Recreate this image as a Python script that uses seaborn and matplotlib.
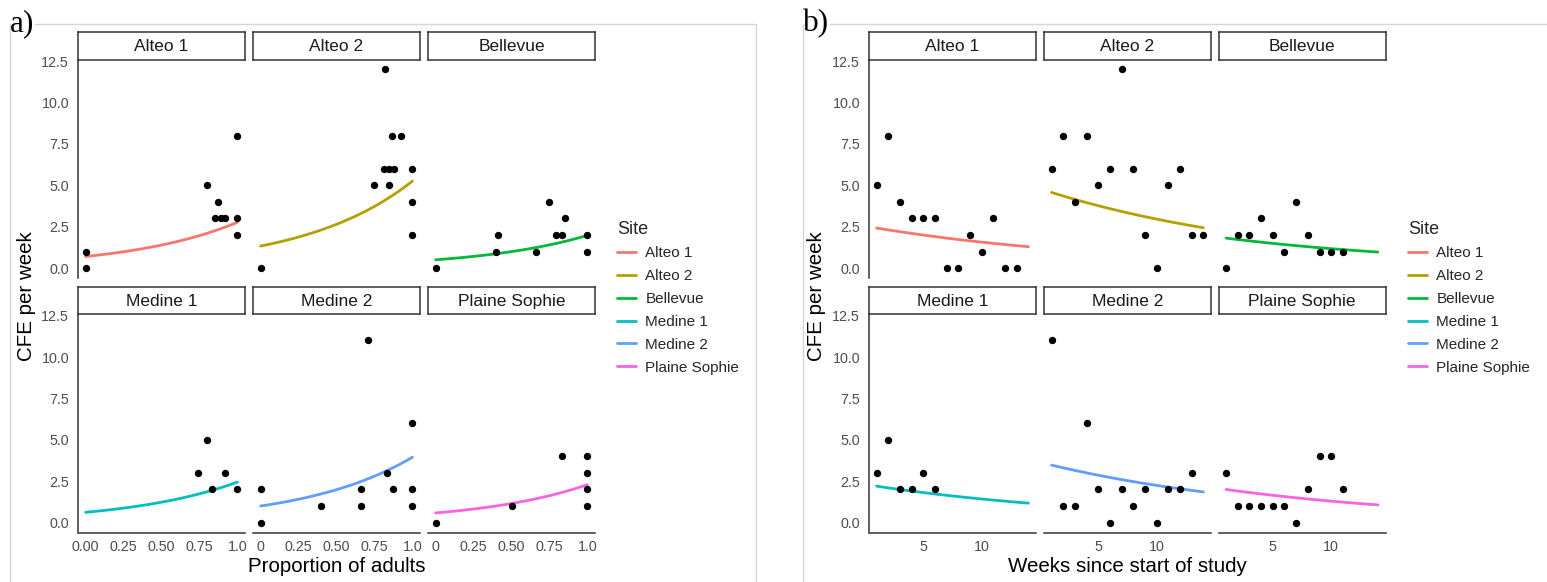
import numpy as np
import pandas as pd
import matplotlib
matplotlib.use("Agg")
import matplotlib.pyplot as plt
from matplotlib.lines import Line2D
import seaborn as sns

# ---------------------------------------------------------------- data
sites = ["Alteo 1", "Alteo 2", "Bellevue", "Medine 1", "Medine 2", "Plaine Sophie"]
site_colors = ["#F8766D", "#B79F00", "#00BA38", "#00BFC4", "#619CFF", "#F564E3"]

# a) weekly CFE against the proportion of adults
prop_alteo1 = [0, 0, 0.80, 0.87, 0.855, 0.89, 0.92, 1, 1, 1]
cfe_prop_alteo1 = [1, 0, 5, 4, 3, 3, 3, 8, 3, 2]
prop_alteo2 = [0, 0.747, 0.821, 0.812, 0.845, 0.876, 0.845, 0.867, 0.928, 1, 1, 1]
cfe_prop_alteo2 = [0, 5, 12, 6, 6, 6, 5, 8, 8, 6, 4, 2]
prop_bellevue = [0, 0.41, 0.40, 0.66, 0.745, 0.855, 0.795, 0.83, 1, 1]
cfe_prop_bellevue = [0, 2, 1, 1, 4, 3, 2, 2, 2, 1]
prop_medine1 = [0.74, 0.80, 0.83, 0.92, 1]
cfe_prop_medine1 = [3, 5, 2, 3, 2]
prop_medine2 = [0, 0, 0.395, 0.664, 0.664, 0.707, 0.83, 0.87, 1, 1, 1]
cfe_prop_medine2 = [2, 0, 1, 2, 1, 11, 3, 2, 6, 2, 1]
prop_plaine = [0, 0.5, 0.83, 1, 1, 1, 1]
cfe_prop_plaine = [0, 1, 4, 4, 3, 2, 1]

# b) weekly CFE against weeks since the start of the study
weeks_alteo1 = [1, 2, 3, 4, 5, 6, 7, 8, 9, 10, 11, 12, 13]
cfe_week_alteo1 = [5, 8, 4, 3, 3, 3, 0, 0, 2, 1, 3, 0, 0]
weeks_alteo2 = [1, 2, 3, 4, 5, 6, 7, 8, 9, 10, 11, 12, 13, 14]
cfe_week_alteo2 = [6, 8, 4, 8, 5, 6, 12, 6, 2, 0, 5, 6, 2, 2]
weeks_bellevue = [1, 2, 3, 4, 5, 6, 7, 8, 9, 10, 11]
cfe_week_bellevue = [0, 2, 2, 3, 2, 1, 4, 2, 1, 1, 1]
weeks_medine1 = [1, 2, 3, 4, 5, 6]
cfe_week_medine1 = [3, 5, 2, 2, 3, 2]
weeks_medine2 = [1, 2, 3, 4, 5, 6, 7, 8, 9, 10, 11, 12, 13]
cfe_week_medine2 = [11, 1, 1, 6, 2, 0, 2, 1, 2, 0, 2, 2, 3]
weeks_plaine = [1, 2, 3, 4, 5, 6, 7, 8, 9, 10, 11]
cfe_week_plaine = [3, 1, 1, 1, 1, 1, 0, 2, 4, 4, 2]

# Poisson (log-link) fits: expected CFE at the start of the covariate range
# per site, with a shared multiplicative effect of the covariate
prop_fit_base = [0.70, 1.33, 0.50, 0.62, 1.00, 0.58]   # at proportion 0
prop_rate_ratio = 3.95                                   # from proportion 0 to 1
prop_fit_range = [0.0, 1.0]
week_fit_base = [2.42, 4.57, 1.81, 2.20, 3.47, 2.00]     # at week 1
week_rate_ratio = 0.9528                                 # per additional week
week_fit_range = [1, 14]

y_ticks = [0, 2.5, 5, 7.5, 10, 12.5]
y_tick_labels = ["0.0", "2.5", "5.0", "7.5", "10.0", "12.5"]
prop_ticks = [0, 0.25, 0.5, 0.75, 1.0]
prop_tick_labels_first = ["0.00", "0.25", "0.50", "0.75", "1.0"]
prop_tick_labels_other = ["0", "0.25", "0.50", "0.75", "1.0"]
week_ticks = [5, 10]
week_tick_labels = ["5", "10"]

prop_points = pd.DataFrame({
    "Site": sum([[s] * len(v) for s, v in zip(sites, [prop_alteo1, prop_alteo2, prop_bellevue,
                                                      prop_medine1, prop_medine2, prop_plaine])], []),
    "x": prop_alteo1 + prop_alteo2 + prop_bellevue + prop_medine1 + prop_medine2 + prop_plaine,
    "cfe": cfe_prop_alteo1 + cfe_prop_alteo2 + cfe_prop_bellevue + cfe_prop_medine1
           + cfe_prop_medine2 + cfe_prop_plaine,
})
week_points = pd.DataFrame({
    "Site": sum([[s] * len(v) for s, v in zip(sites, [weeks_alteo1, weeks_alteo2, weeks_bellevue,
                                                      weeks_medine1, weeks_medine2, weeks_plaine])], []),
    "x": weeks_alteo1 + weeks_alteo2 + weeks_bellevue + weeks_medine1 + weeks_medine2 + weeks_plaine,
    "cfe": cfe_week_alteo1 + cfe_week_alteo2 + cfe_week_bellevue + cfe_week_medine1
           + cfe_week_medine2 + cfe_week_plaine,
})


def fitted(base, ratio, xrange):
    rows = []
    xs = np.linspace(xrange[0], xrange[1], 80)
    for s, b in zip(sites, base):
        pred = np.exp(np.log(b) + np.log(ratio) * (xs - xrange[0]))
        rows.append(pd.DataFrame({"Site": s, "x": xs, "cfe": pred}))
    return pd.concat(rows, ignore_index=True)


prop_fit = fitted(prop_fit_base, prop_rate_ratio, prop_fit_range)
week_fit = fitted(week_fit_base, week_rate_ratio, week_fit_range)

# ---------------------------------------------------------------- style
sns.set_theme(style="white")
plt.rcParams["font.family"] = ["Liberation Sans", "DejaVu Sans"]

W, H = 1547, 582
fig = plt.figure(figsize=(W / 100, H / 100), dpi=100)
fig.patch.set_facecolor("white")

AX_W, AX_H = 167, 218.5
STRIP_H = 27.5
ROW_TOPS = [59.5, 314.0]
AXIS_COLOR = "#333333"
TICK_LABEL_COLOR = "#4D4D4D"


def add_box(x, y, w, h):
    return fig.add_axes([x / W, 1 - (y + h) / H, w / W, h / H])


def fig_line(xs, ys, **kw):
    fig.add_artist(Line2D([x / W for x in xs], [1 - y / H for y in ys],
                          transform=fig.transFigure, **kw))


def draw_block(col_lefts, points, fit, xlim, xticks, xlabels_by_col, xlabel,
               ylabel_x, legend_x, tag, tag_x, frame_left, frame_right, frame_top_start):
    # light frame around the block
    frame_kw = dict(color="#D6D6D6", lw=1.0)
    fig_line([frame_top_start, frame_right], [24, 24], **frame_kw)
    fig_line([frame_left, frame_left], [24, H + 2], **frame_kw)
    if frame_right < W:
        fig_line([frame_right, frame_right], [24, H + 2], **frame_kw)
    fig.text(tag_x / W, 1 - 31 / H, tag, family=["Liberation Serif", "DejaVu Serif"],
             fontsize=22.5, ha="left", va="baseline", color="black")

    for i, (site, color) in enumerate(zip(sites, site_colors)):
        row, col = divmod(i, 3)
        x0, y0 = col_lefts[col], ROW_TOPS[row]
        ax = add_box(x0, y0, AX_W, AX_H)
        pts = points[points["Site"] == site]
        sns.lineplot(data=fit[fit["Site"] == site], x="x", y="cfe", color=color,
                     lw=2.0, ax=ax, legend=False, zorder=2)
        sns.scatterplot(data=pts, x="x", y="cfe", color="black", s=28,
                        linewidth=0, ax=ax, legend=False, zorder=3)
        ax.set_xlim(*xlim)
        ax.set_ylim(-0.6, 12.6)
        ax.set_xlabel("")
        ax.set_ylabel("")
        ax.set_facecolor("white")
        for sp in ax.spines.values():
            sp.set_visible(False)
        ax.tick_params(colors=AXIS_COLOR, labelcolor=TICK_LABEL_COLOR, labelsize=10.3,
                       length=3.2, width=0.9, pad=3.2)
        ax.set_yticks(y_ticks)
        ax.set_xticks(xticks)
        if col == 0:
            ax.spines["left"].set_visible(True)
            ax.spines["left"].set_color(AXIS_COLOR)
            ax.spines["left"].set_linewidth(1.1)
            ax.set_yticklabels(y_tick_labels)
        else:
            ax.tick_params(axis="y", left=False, labelleft=False)
        if row == 1:
            ax.spines["bottom"].set_visible(True)
            ax.spines["bottom"].set_color(AXIS_COLOR)
            ax.spines["bottom"].set_linewidth(1.1)
            ax.set_xticklabels(xlabels_by_col[col])
            ax.tick_params(axis="x", pad=2.0)
        else:
            ax.tick_params(axis="x", bottom=False, labelbottom=False)

        # facet strip
        st = add_box(x0, y0 - STRIP_H, AX_W, STRIP_H)
        st.set_xticks([])
        st.set_yticks([])
        st.set_facecolor("white")
        for sp in st.spines.values():
            sp.set_color(AXIS_COLOR)
            sp.set_linewidth(1.1)
        st.text(0.5, 0.47, site, transform=st.transAxes, ha="center", va="center",
                fontsize=12.5, color="#1A1A1A")

    left = col_lefts[0]
    right = col_lefts[2] + AX_W
    fig.text(((left + right) / 2) / W, 1 - 566 / H, xlabel, ha="center", va="center",
             fontsize=14.8, color="black")
    fig.text(ylabel_x / W, 1 - 296 / H, "CFE per week", ha="center", va="center",
             rotation=90, fontsize=14.8, color="black")

    handles = [Line2D([], [], color=c, lw=2.0) for c in site_colors]
    fig.legend(handles, sites, title="Site", loc="upper left",
               bbox_to_anchor=(legend_x / W, 1 - 220.5 / H), frameon=False,
               fontsize=11, title_fontsize=13, handlelength=1.25, handletextpad=0.6,
               labelspacing=0.58, borderpad=0, borderaxespad=0, alignment="left")


draw_block([78, 253, 428], prop_points, prop_fit, (-0.05, 1.05), prop_ticks,
           [prop_tick_labels_first, prop_tick_labels_other, prop_tick_labels_other],
           "Proportion of adults", 26, 617, "a)", 10, 10, 756, 35)
draw_block([869, 1044, 1218.5], week_points, week_fit, (0.35, 14.65), week_ticks,
           [week_tick_labels] * 3,
           "Weeks since start of study", 817, 1408, "b)", 803, 803, W + 5, 830)

fig.savefig("out.png", dpi=100, facecolor="white")
